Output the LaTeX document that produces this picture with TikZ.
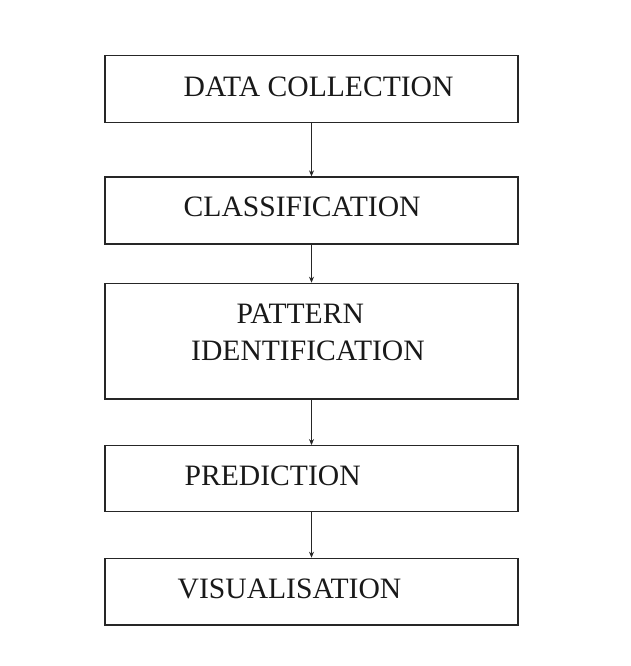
\documentclass[tikz,border=0pt]{standalone}
\usepackage{fontspec}
\setmainfont{Liberation Serif}
\usetikzlibrary{arrows.meta}
\begin{document}
\begin{tikzpicture}[x=1pt,y=-1pt,
  stagebox/.style={draw=black!85,line width=1.3pt,rectangle,inner sep=0pt,minimum width=413pt},
  label/.style={anchor=base west,inner sep=0pt,font=\fontsize{29.6}{34}\selectfont,text=black!90},
  flow/.style={draw=black!85,line width=0.8pt,-{Stealth[length=6pt,width=5pt]}}]
\useasboundingbox (0,0) rectangle (631,666);
\node[stagebox,minimum height=67pt] (b1) at (311.5,89.3) {};
\node[stagebox,minimum height=67pt] (b2) at (311.5,210.5) {};
\node[stagebox,minimum height=115.7pt] (b3) at (311.5,341.2) {};
\node[stagebox,minimum height=66pt] (b4) at (311.5,478.7) {};
\node[stagebox,minimum height=66.7pt] (b5) at (311.5,591.7) {};
\node[label] (t1) at (183.5,96.7) {DATA COLLECTION};
\node[label] (t2) at (183.5,216.7) {CLASSIFICATION};
\node[label] (t3a) at (236.5,323.3) {PATTERN};
\node[label] (t3b) at (191,360) {IDENTIFICATION};
\node[label] (t4) at (184.5,485) {PREDICTION};
\node[label] (t5) at (177.5,598.3) {VISUALISATION};
\draw[flow] (b1.south) -- (b2.north);
\draw[flow] (b2.south) -- (b3.north);
\draw[flow] (b3.south) -- (b4.north);
\draw[flow] (b4.south) -- (b5.north);
\end{tikzpicture}
\end{document}
